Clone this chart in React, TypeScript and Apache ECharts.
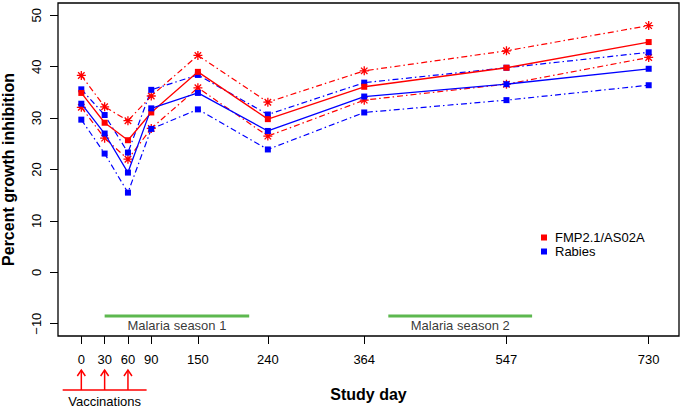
import React, { useEffect, useRef } from "react";
import * as echarts from "echarts";

// ---- data ----
const days = [0, 30, 60, 90, 150, 240, 364, 547, 730];
const fmpMean = [34.9, 29.1, 25.7, 31.1, 39.0, 29.8, 36.1, 39.8, 44.8];
const fmpUpper = [38.3, 32.2, 29.5, 34.3, 42.2, 33.1, 39.2, 43.1, 48.0];
const fmpLower = [32.1, 26.1, 22.0, 28.0, 35.9, 26.5, 33.5, 36.6, 41.8];
const rabMean = [32.8, 27.0, 19.4, 31.9, 34.9, 27.5, 34.2, 36.6, 39.6];
const rabUpper = [35.6, 30.6, 23.3, 35.5, 38.4, 30.7, 36.9, 39.8, 42.8];
const rabLower = [29.7, 23.1, 15.5, 27.9, 31.7, 23.9, 31.1, 33.5, 36.4];
const yTicks = [-10, 0, 10, 20, 30, 40, 50];
const season1 = [30, 216];
const season2 = [395, 580];
const seasonLevel = -8.5;
const seasonLabelLevel = -10.3;
const seasonLabels = ["Malaria season 1", "Malaria season 2"];
const vaccinationDays = [0, 30, 60];
const vaccinationSpan = [-24, 84];
const legendNames = ["FMP2.1/AS02A", "Rabies"];

const RED = "#ff0000";
const BLUE = "#0000ff";
const GREEN = "#5db84f";
const FONT = "'Liberation Sans', Arial, Helvetica, sans-serif";
const DOTDASH = [6, 3, 1.5, 3];
const ASTERISK =
  "path://M0,-1L0,1M-1,0L1,0M-0.72,-0.72L0.72,0.72M-0.72,0.72L0.72,-0.72";

const zip = (vals: number[]) => days.map((d, i) => [d, vals[i]]);

export default function App() {
  const ref = useRef<HTMLDivElement>(null);
  useEffect(() => {
    document.body.style.margin = "0";
    if (!ref.current) return;
    const chart = echarts.init(ref.current, undefined, { renderer: "svg" });
    const Y_MIN = -12.4;
    const Y_MAX = 52.4;

    const meanSeries = (name: string, vals: number[], color: string) => ({
      name,
      type: "line",
      data: zip(vals),
      symbol: "rect",
      symbolSize: 6,
      lineStyle: { color, width: 1.3 },
      itemStyle: { color },
      z: 3,
    });
    const ciSeries = (
      name: string,
      vals: number[],
      color: string,
      star: boolean
    ) => ({
      name,
      type: "line",
      data: zip(vals),
      symbol: star ? ASTERISK : "rect",
      symbolSize: star ? 9 : 6,
      lineStyle: { color, width: 1.2, type: DOTDASH },
      itemStyle: star
        ? { color, borderColor: color, borderWidth: 1.3 }
        : { color },
      z: 2,
    });
    const seasonSeries = (range: number[], label: string) => ({
      name: label,
      type: "line",
      data: range.map((d) => [d, seasonLevel]),
      symbol: "none",
      lineStyle: { color: GREEN, width: 3 },
      silent: true,
      z: 1,
    });

    chart.setOption({
      animation: false,
      textStyle: { fontFamily: FONT },
      grid: {
        left: 58,
        right: 3,
        top: 3,
        bottom: 72,
        outerBoundsMode: "none",
        containLabel: false,
        show: true,
        borderColor: "#000",
        borderWidth: 1.3,
        backgroundColor: "transparent",
        z: 5,
      },
      legend: {
        data: legendNames,
        orient: "vertical",
        left: 536,
        top: 226,
        itemWidth: 6,
        itemHeight: 6,
        itemGap: 1,
        icon: "rect",
        textStyle: {
          fontSize: 13,
          color: "#000",
          fontFamily: FONT,
          padding: [0, 0, 0, 3],
        },
      },
      xAxis: {
        type: "value",
        min: -30,
        max: 769,
        name: "Study day",
        nameLocation: "middle",
        nameGap: 50,
        nameTextStyle: {
          fontSize: 16,
          fontWeight: "bold",
          color: "#000",
          fontFamily: FONT,
        },
        axisLine: { show: false, onZero: false },
        splitLine: { show: false },
        axisTick: {
          show: true,
          inside: false,
          length: 8,
          customValues: days,
          lineStyle: { color: "#000", width: 1 },
        },
        axisLabel: {
          customValues: days,
          fontSize: 13,
          color: "#000",
          margin: 17,
          fontFamily: FONT,
        },
      },
      yAxis: {
        type: "value",
        min: Y_MIN,
        max: Y_MAX,
        name: "Percent growth inhibition",
        nameLocation: "middle",
        nameGap: 42,
        nameRotate: 90,
        nameTextStyle: {
          fontSize: 16,
          fontWeight: "bold",
          color: "#000",
          fontFamily: FONT,
        },
        axisLine: { show: false, onZero: false },
        splitLine: { show: false },
        axisTick: {
          show: true,
          inside: false,
          length: 8,
          customValues: yTicks,
          lineStyle: { color: "#000", width: 1 },
        },
        axisLabel: {
          customValues: yTicks,
          rotate: 90,
          fontSize: 13,
          color: "#000",
          margin: 15,
          fontFamily: FONT,
          formatter: (v: number) => (v < 0 ? "\u2212" + Math.abs(v) : String(v)),
        },
      },
      series: [
        seasonSeries(season1, seasonLabels[0]),
        seasonSeries(season2, seasonLabels[1]),
        {
          name: "seasonLabels",
          type: "scatter",
          data: [
            [(season1[0] + season1[1]) / 2, seasonLabelLevel],
            [(season2[0] + season2[1]) / 2, seasonLabelLevel],
          ],
          symbolSize: 0,
          silent: true,
          label: {
            show: true,
            position: "inside",
            fontSize: 13,
            color: "#000",
            fontFamily: FONT,
            formatter: (p: any) => seasonLabels[p.dataIndex],
          },
        },
        ciSeries("FMP upper", fmpUpper, RED, true),
        ciSeries("FMP lower", fmpLower, RED, true),
        ciSeries("Rabies upper", rabUpper, BLUE, false),
        ciSeries("Rabies lower", rabLower, BLUE, false),
        meanSeries(legendNames[0], fmpMean, RED),
        meanSeries(legendNames[1], rabMean, BLUE),
        {
          name: "vaccinations",
          type: "custom",
          silent: true,
          clip: false,
          data: vaccinationDays.map((d) => [d]),
          renderItem: (params: any, api: any) => {
            const p = api.coord([api.value(0), Y_MIN]);
            const x = p[0];
            const base = p[1] + 54;
            const tip = p[1] + 34;
            const style = { stroke: RED, lineWidth: 1.5, fill: "none" };
            const children: any[] = [
              {
                type: "line",
                shape: { x1: x, y1: base, x2: x, y2: tip },
                style,
              },
              {
                type: "polyline",
                shape: {
                  points: [
                    [x - 4, tip + 6],
                    [x, tip],
                    [x + 4, tip + 6],
                  ],
                },
                style,
              },
            ];
            if (params.dataIndex === 0) {
              const a = api.coord([vaccinationSpan[0], Y_MIN]);
              const b = api.coord([vaccinationSpan[1], Y_MIN]);
              const mid = api.coord([vaccinationDays[1], Y_MIN]);
              children.push({
                type: "line",
                shape: { x1: a[0], y1: base, x2: b[0], y2: base },
                style,
              });
              children.push({
                type: "text",
                style: {
                  text: "Vaccinations",
                  x: mid[0],
                  y: base + 11,
                  align: "center",
                  verticalAlign: "middle",
                  fontSize: 13,
                  fontFamily: FONT,
                  fill: "#000",
                },
              });
            }
            return { type: "group", children };
          },
        },
      ],
    });
    return () => chart.dispose();
  }, []);
  return <div ref={ref} style={{ width: 682, height: 408 }} />;
}
